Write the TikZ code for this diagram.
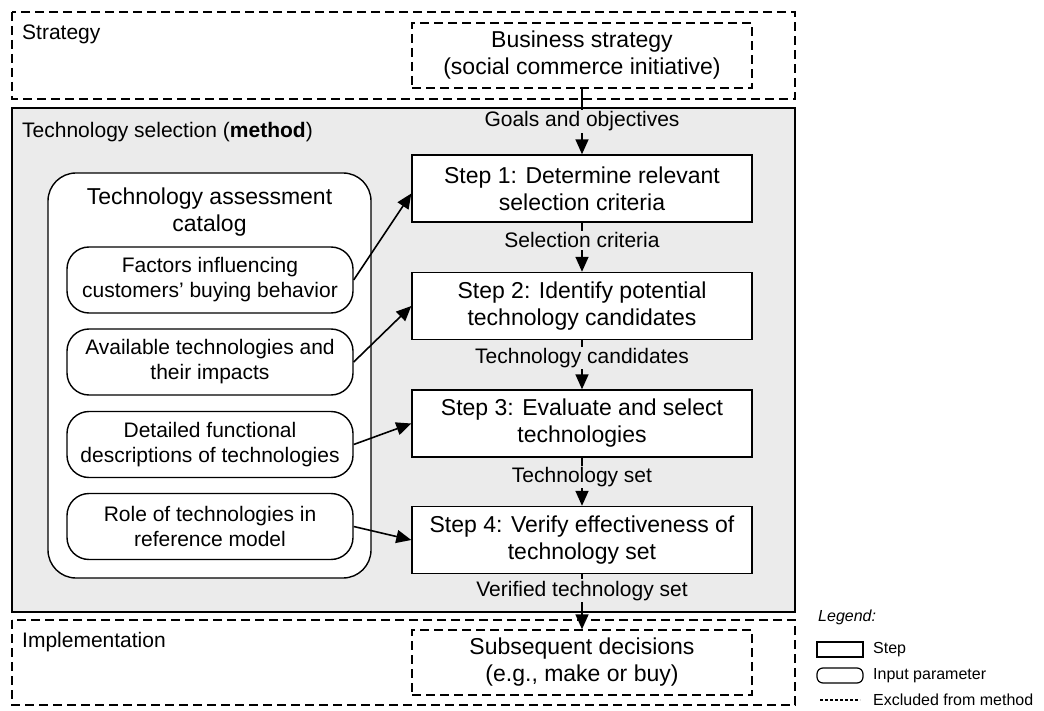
\documentclass[tikz,border=0pt]{standalone}
\usepackage{fontspec}
\setmainfont{Liberation Sans}
\usetikzlibrary{arrows.meta}

\definecolor{methodgray}{RGB}{235,235,235}

\tikzset{
	dashedarea/.style={draw, line width=1.3pt, dash pattern=on 9pt off 5pt},
	areatitle/.style={anchor=base west, inner sep=0pt, font=\fontsize{21}{25}\selectfont},
	stepbox/.style={draw, line width=1.4pt, fill=white, minimum width=340pt, minimum height=67pt,
		align=center, inner sep=0pt, font=\fontsize{23}{27}\selectfont},
	outerbox/.style={stepbox, fill=none, dash pattern=on 9pt off 5pt, line width=1.3pt, minimum height=65pt},
	inputbox/.style={draw, line width=1.4pt, fill=white, rounded corners=22pt, minimum width=286pt,
		minimum height=66pt, align=center, inner sep=0pt, font=\fontsize{21}{25}\selectfont},
	flow/.style={line width=1.6pt, -{Triangle[length=15pt,width=13pt]}},
	flowlabel/.style={fill=methodgray, inner sep=1.5pt, font=\fontsize{21}{25}\selectfont},
	legendtext/.style={anchor=west, inner sep=0pt, font=\fontsize{16}{19}\selectfont}
}

\begin{document}
\begin{tikzpicture}[x=1pt,y=-1pt]
	\useasboundingbox (0,0) rectangle (1044,711);
	% areas
	\draw[dashedarea] (12,12) rectangle (795,99);
	\draw[line width=1.4pt, fill=methodgray] (12,108) rectangle (795,612);
	\draw[dashedarea] (12,620) rectangle (795,705);
	\node[areatitle] (tstrat) at (22,40) {Strategy};
	\node[areatitle] (tmethod) at (22,138) {Technology selection (\textbf{method})};
	\node[areatitle] (timpl) at (22,647) {Implementation};

	% excluded boxes
	\node[outerbox] (bus) at (582,55.5) {Business strategy\\(social commerce initiative)};
	\node[outerbox] (sub) at (582,662.5) {Subsequent decisions\\(e.g., make or buy)};

	% steps
	\node[stepbox] (s1) at (582,188.5) {Step 1: Determine relevant\\selection criteria};
	\node[stepbox] (s2) at (582,306) {Step 2: Identify potential\\technology candidates};
	\node[stepbox] (s3) at (582,423.5) {Step 3: Evaluate and select\\technologies};
	\node[stepbox] (s4) at (582,540) {Step 4: Verify effectiveness of\\technology set};

	% catalog
	\node[draw, line width=1.4pt, fill=white, rounded corners=28pt, minimum width=323pt,
		minimum height=405pt] (cat) at (209.5,375.5) {};
	\node[align=center, inner sep=0pt, font=\fontsize{23}{27}\selectfont] (cattitle) at (209.5,212)
		{Technology assessment\\catalog};
	\node[inputbox] (in1) at (210,280) {Factors influencing\\customers’ buying behavior};
	\node[inputbox] (in2) at (210,362) {Available technologies and\\their impacts};
	\node[inputbox] (in3) at (210,444.5) {Detailed functional\\descriptions of technologies};
	\node[inputbox] (in4) at (210,526.5) {Role of technologies in\\reference model};

	% connectors
	\draw[flow] (bus) -- node[flowlabel] {Goals and objectives} (s1);
	\draw[flow] (s1) -- node[flowlabel, pos=0.36] {Selection criteria} (s2);
	\draw[flow] (s2) -- node[flowlabel, pos=0.36] {Technology candidates} (s3);
	\draw[flow] (s3) -- node[flowlabel, pos=0.4] {Technology set} (s4);
	\draw[flow] (s4) -- node[flowlabel, pos=0.3] {Verified technology set} (sub);
	\draw[flow] (in1.east) -- ([yshift=-5pt]s1.west);
	\draw[flow] (in2.east) -- (s2.west);
	\draw[flow] (in3.east) -- (s3.west);
	\draw[flow] (in4.east) -- (s4.west);

	% legend
	\node[legendtext, font=\fontsize{16}{19}\selectfont\itshape] (leg) at (818,617) {Legend:};
	\draw[line width=1.2pt] (817,642) rectangle (863,657);
	\node[legendtext] (legstep) at (873,650) {Step};
	\draw[line width=1.2pt, rounded corners=6pt] (817,668) rectangle (863,683);
	\node[legendtext] (leginput) at (873,676) {Input parameter};
	\coordinate (dl) at (820,700);
	\coordinate (dr) at (860,700);
	\draw[line width=1.2pt, dash pattern=on 3pt off 2pt] (dl) -- (dr);
	\node[legendtext] (legexcl) at (873,700) {Excluded from method};
\end{tikzpicture}
\end{document}
